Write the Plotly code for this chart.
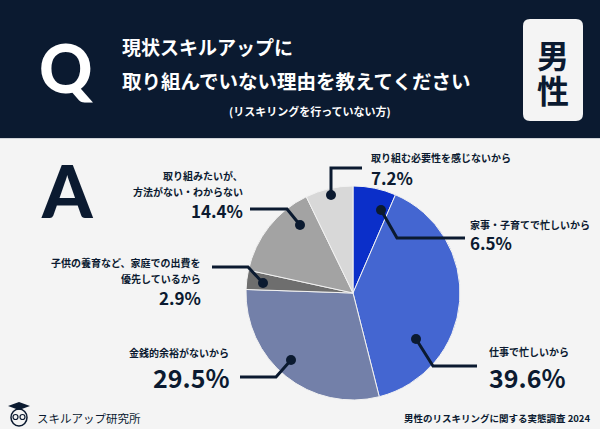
import plotly.graph_objects as go

# ---- data ----
categories = [
    "家事・子育てで忙しいから",
    "仕事で忙しいから",
    "金銭的余裕がないから",
    "子供の養育など、家庭での出費を優先しているから",
    "取り組みたいが、方法がない・わからない",
    "取り組む必要性を感じないから",
]
values = [6.5, 39.6, 29.5, 2.9, 14.4, 7.2]
colors = ["#0b2fc9", "#4466d1", "#7380a9", "#6e6e6e", "#a3a3a3", "#d8d8d8"]

label_lines = [
    ["家事・子育てで忙しいから"],
    ["仕事で忙しいから"],
    ["金銭的余裕がないから"],
    ["子供の養育など、家庭での出費を", "優先しているから"],
    ["取り組みたいが、", "方法がない・わからない"],
    ["取り組む必要性を感じないから"],
]

W, H = 600, 429
NAVY = "#0b1a30"
BG = "#f4f4f4"
FONT = "Noto Sans CJK JP"
HEAVY = "Lato, Inter, Noto Sans CJK JP"


def px(x):
    return x / W


def py(y):
    return 1 - y / H


fig = go.Figure()

cx, cy, R = 353, 293, 107
fig.add_trace(go.Pie(
    labels=categories, values=values, sort=False, direction="clockwise",
    rotation=0, marker=dict(colors=colors, line=dict(color="#f2f2f2", width=1)),
    textinfo="none", hoverinfo="skip", showlegend=False,
    domain=dict(x=[px(cx - R), px(cx + R)], y=[py(cy + R), py(cy - R)]),
))

shapes = []
annotations = []

shapes.append(dict(type="rect", xref="paper", yref="paper", x0=0, x1=1, y0=py(138), y1=1,
                   fillcolor=NAVY, line=dict(width=0), layer="below"))
shapes.append(dict(type="line", xref="paper", yref="paper", x0=0, x1=1, y0=py(138.5), y1=py(138.5),
                   line=dict(color="#d0d3d8", width=1), layer="below"))

bx0, bx1, by0, by1, r = 523, 583, 19, 121, 7
path = (f"M {px(bx0 + r)},{py(by0)} L {px(bx1 - r)},{py(by0)} "
        f"Q {px(bx1)},{py(by0)} {px(bx1)},{py(by0 + r)} "
        f"L {px(bx1)},{py(by1 - r)} Q {px(bx1)},{py(by1)} {px(bx1 - r)},{py(by1)} "
        f"L {px(bx0 + r)},{py(by1)} Q {px(bx0)},{py(by1)} {px(bx0)},{py(by1 - r)} "
        f"L {px(bx0)},{py(by0 + r)} Q {px(bx0)},{py(by0)} {px(bx0 + r)},{py(by0)} Z")
shapes.append(dict(type="path", xref="paper", yref="paper", path=path,
                   fillcolor=BG, line=dict(width=0)))


def text(x, y, s, size, color=NAVY, xanchor="left", weight="bold", family=FONT):
    annotations.append(dict(x=px(x), y=py(y), xref="paper", yref="paper", text=s,
                            showarrow=False, xanchor=xanchor, yanchor="middle",
                            font=dict(family=family, size=size, color=color, weight=weight)))


text(66, 68, "Q", 66, color="white", xanchor="center", weight=900, family=HEAVY)
text(120, 47, "現状スキルアップに", 19, color="white")
text(120, 80, "取り組んでいない理由を教えてください", 19.5, color="white")
text(310, 111, "(リスキリングを行っていない方)", 11, color="white", xanchor="center")
text(553, 54, "男", 32, xanchor="center")
text(553, 89, "性", 32, xanchor="center")
text(67, 190, "A", 72, xanchor="center", weight=900, family=HEAVY)

label_pos = [
    (468, 224, 242, "left", 17),
    (487, 351, 377, "left", 25),
    (231, 352, 377, "right", 25),
    (203, 262, 297, "right", 17),
    (245, 175, 210, "right", 17),
    (369, 158, 177, "left", 17),
]
for lines, val, (x, y0, yp, anc, fs) in zip(label_lines, values, label_pos):
    for i, ln in enumerate(lines):
        text(x, y0 + i * 16.5, ln, 10, xanchor=anc)
    text(x, yp, f"{val}%", fs, xanchor=anc)

leaders = [
    [(465, 238), (397, 238), (381, 210)],
    [(477, 366), (433, 366), (416, 339)],
    [(240, 377), (276, 377), (291, 360)],
    [(212, 267), (248, 267), (263, 283)],
    [(250, 209), (287, 209), (300, 225)],
    [(362, 168), (331, 168), (331, 195)],
]
for pts in leaders:
    p = "M " + " L ".join(f"{px(x)},{py(y)}" for x, y in pts)
    shapes.append(dict(type="path", xref="paper", yref="paper", path=p,
                       line=dict(color=NAVY, width=3)))
    dx, dy = pts[-1]
    shapes.append(dict(type="circle", xref="paper", yref="paper",
                       x0=px(dx - 5), x1=px(dx + 5), y0=py(dy + 5), y1=py(dy - 5),
                       fillcolor=NAVY, line=dict(width=0)))

text(592, 418, "男性のリスキリングに関する実態調査 2024", 9.5, xanchor="right")
text(35, 418, "スキルアップ研究所", 11.5, xanchor="left", weight="normal")

shapes.append(dict(type="path", xref="paper", yref="paper",
                   path=f"M {px(8)},{py(406)} L {px(19)},{py(402)} L {px(30)},{py(406)} L {px(19)},{py(410)} Z",
                   fillcolor=NAVY, line=dict(width=0)))
shapes.append(dict(type="circle", xref="paper", yref="paper",
                   x0=px(11), x1=px(27), y0=py(426), y1=py(409),
                   fillcolor="rgba(0,0,0,0)", line=dict(color=NAVY, width=1.5)))
for ex in (15.5, 22.5):
    shapes.append(dict(type="circle", xref="paper", yref="paper",
                       x0=px(ex - 2.5), x1=px(ex + 2.5), y0=py(419.5), y1=py(414.5),
                       fillcolor="rgba(0,0,0,0)", line=dict(color=NAVY, width=1.2)))

fig.update_layout(
    width=W, height=H, margin=dict(l=0, r=0, t=0, b=0),
    paper_bgcolor=BG, plot_bgcolor=BG,
    shapes=shapes, annotations=annotations,
    xaxis=dict(visible=False), yaxis=dict(visible=False),
)
fig.write_html("out.html", config={"displayModeBar": False},
               post_script="document.body.style.margin='0px';")
